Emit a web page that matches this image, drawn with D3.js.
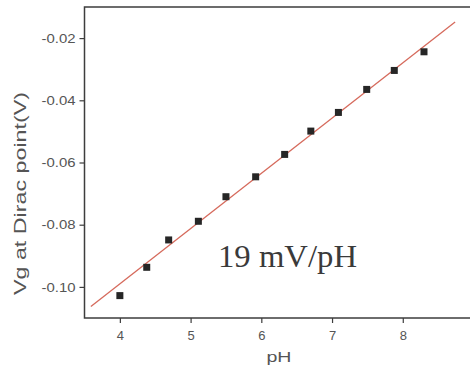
<!DOCTYPE html>
<html>
<head>
<meta charset="utf-8">
<script src="https://cdn.jsdelivr.net/npm/d3@7"></script>
<style>
  html, body { margin: 0; padding: 0; background: #fff; }
  svg { display: block; }
</style>
</head>
<body>
<svg id="chart" width="470" height="367"></svg>
<script>
// Measured Dirac-point gate voltage versus solution pH
const phValues = [4.00, 4.38, 4.69, 5.11, 5.50, 5.92, 6.33, 6.70, 7.09, 7.49, 7.88, 8.30];
const vgDirac  = [-0.1028, -0.0937, -0.0849, -0.0789, -0.0710, -0.0646, -0.0574, -0.0499, -0.0439, -0.0365, -0.0304, -0.0244];

// Linear fit drawn across the range (end points)
const fitPh = [3.59, 8.74];
const fitVg = [-0.1063, -0.0148];

const xTicks = [4, 5, 6, 7, 8, 9];
const yTicks = [-0.10, -0.08, -0.06, -0.04, -0.02];
const slopeLabel = "19 mV/pH";

const svg = d3.select("#chart");
const frame = { left: 84.5, right: 473.5, top: 7, bottom: 318 };

const x = d3.scaleLinear().domain([3.5, 9]).range([frame.left, frame.right]);
const y = d3.scaleLinear().domain([-0.11, -0.01]).range([frame.bottom, frame.top]);

const axisColor = "#3d3d3d";
const textColor = "#555";

// Axes with outward ticks
const xAxis = svg.append("g")
  .attr("transform", `translate(0,${frame.bottom})`)
  .call(d3.axisBottom(x).tickValues(xTicks).tickFormat(d3.format("d")).tickSizeOuter(0).tickSize(5).tickPadding(6));
const yAxis = svg.append("g")
  .attr("transform", `translate(${frame.left},0)`)
  .call(d3.axisLeft(y).tickValues(yTicks).tickFormat(d3.format(".2f")).tickSizeOuter(0).tickSize(5).tickPadding(4));

[xAxis, yAxis].forEach(g => {
  g.select(".domain").remove();
  g.selectAll(".tick line").attr("stroke", axisColor).attr("stroke-width", 1.2);
  g.selectAll(".tick text")
    .attr("fill", textColor)
    .style("font-family", "'Liberation Sans', Arial, sans-serif")
    .style("font-size", "13px");
});
yAxis.selectAll(".tick text")
  .text(d => d3.format(".2f")(d).replace("−", "-"))
  .attr("textLength", 34).attr("lengthAdjust", "spacingAndGlyphs");
xAxis.selectAll(".tick text").attr("dy", "0.85em");

// Plot frame
svg.append("rect")
  .attr("x", frame.left).attr("y", frame.top)
  .attr("width", frame.right - frame.left).attr("height", frame.bottom - frame.top)
  .attr("fill", "none").attr("stroke", axisColor).attr("stroke-width", 1.5);

// Fit line
const fitData = fitPh.map((p, i) => [p, fitVg[i]]);
svg.append("path")
  .datum(fitData)
  .attr("d", d3.line().x(d => x(d[0])).y(d => y(d[1])))
  .attr("fill", "none").attr("stroke", "#d66a5c").attr("stroke-width", 1.3);

// Data points as squares
const s = 7;
svg.append("g").selectAll("rect")
  .data(phValues.map((p, i) => ({ p, v: vgDirac[i] })))
  .join("rect")
  .attr("x", d => x(d.p) - s / 2).attr("y", d => y(d.v) - s / 2)
  .attr("width", s).attr("height", s)
  .attr("fill", "#262626");

// Axis titles
svg.append("text")
  .attr("x", 279).attr("y", 362)
  .attr("text-anchor", "middle")
  .attr("fill", textColor)
  .style("font-family", "'Liberation Sans', Arial, sans-serif")
  .style("font-size", "15px")
  .attr("textLength", 25).attr("lengthAdjust", "spacingAndGlyphs")
  .text("pH");

svg.append("text")
  .attr("transform", "translate(26,193.5) rotate(-90)")
  .attr("text-anchor", "middle")
  .attr("fill", textColor)
  .style("font-family", "'Liberation Sans', Arial, sans-serif")
  .style("font-size", "17px")
  .attr("textLength", 203).attr("lengthAdjust", "spacingAndGlyphs")
  .text("Vg at Dirac point(V)");

// Slope annotation
svg.append("text")
  .attr("x", 218).attr("y", 267)
  .attr("fill", "#3a3a3a")
  .style("font-family", "'Liberation Serif', 'Times New Roman', serif")
  .style("font-size", "32px")
  .attr("textLength", 139).attr("lengthAdjust", "spacingAndGlyphs")
  .text(slopeLabel);
</script>
</body>
</html>
